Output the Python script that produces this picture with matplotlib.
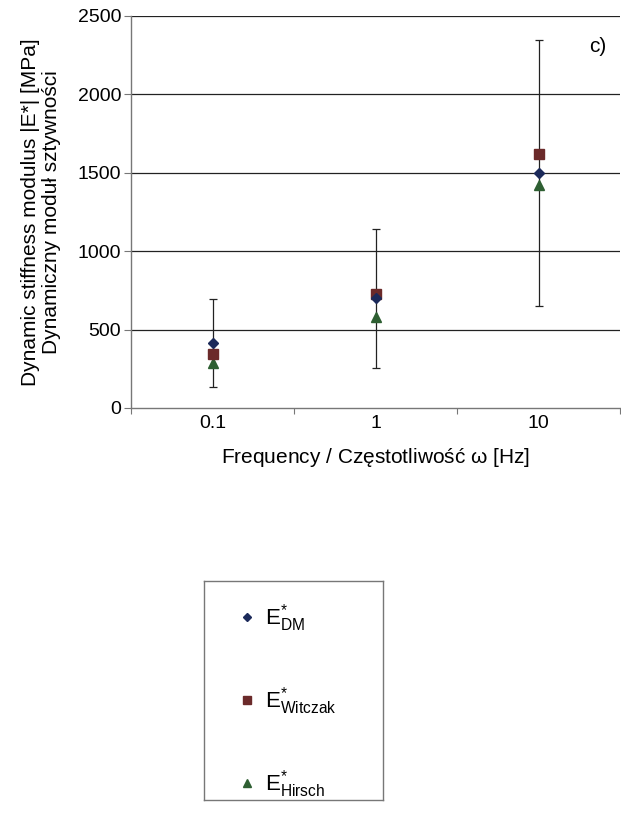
import matplotlib.pyplot as plt
import numpy as np

plt.rcParams['font.family'] = ['Liberation Sans', 'DejaVu Sans']
plt.rcParams['mathtext.fontset'] = 'custom'
plt.rcParams['mathtext.rm'] = 'Liberation Sans'
plt.rcParams['mathtext.it'] = 'Liberation Sans'

# data
freq_labels = ['0.1', '1', '10']
e_dm = [413, 700, 1500]
e_witczak = [345, 726, 1623]
e_hirsch = [285, 583, 1420]
e_dm_err = [281, 442, 850]

fig = plt.figure(figsize=(6.21, 8.21), dpi=100)
ax = fig.add_axes([131 / 621, 1 - 408 / 821, 489 / 621, 392 / 821])

x = np.arange(len(freq_labels)) + 0.5

# grid lines behind the points
for yv in [500, 1000, 1500, 2000, 2500]:
    ax.axhline(yv, color='#222222', lw=0.9, zorder=1)

ax.errorbar(x, e_dm, yerr=e_dm_err, fmt='none', ecolor='#222222',
            elinewidth=0.9, capsize=3, capthick=0.9, zorder=2)
ax.plot(x, e_hirsch, '^', color='#2e5f32', ms=7, ls='none', zorder=3,
        label=r'E$^{*}_{\mathrm{Hirsch}}$')
ax.plot(x, e_witczak, 's', color='#6b2a2a', ms=6.5, ls='none', zorder=4,
        label=r'E$^{*}_{\mathrm{Witczak}}$')
ax.plot(x, e_dm, 'D', color='#1c2a5a', ms=5, ls='none', zorder=5,
        label=r'E$^{*}_{\mathrm{DM}}$')

ax.set_xlim(0, 3)
ax.set_ylim(0, 2500)
ax.set_yticks([0, 500, 1000, 1500, 2000, 2500])
ax.set_xticks([0, 1, 2, 3])
ax.set_xticklabels([])
ax.set_xticks(x, minor=True)
ax.set_xticklabels(freq_labels, minor=True)
ax.tick_params(axis='x', which='minor', length=0, labelsize=14, pad=5)
ax.tick_params(axis='x', which='major', length=4, direction='out', color='#777777')
ax.tick_params(axis='y', length=5, direction='out', color='#777777', labelsize=14, pad=2)

for side in ['top', 'right']:
    ax.spines[side].set_visible(False)
for side in ['left', 'bottom']:
    ax.spines[side].set_color('#777777')
    ax.spines[side].set_linewidth(1)

ax.set_ylabel('Dynamic stiffness modulus |E*| [MPa]\nDynamiczny moduł sztywności',
              fontsize=15, labelpad=12, linespacing=1.15)
ax.set_xlabel('Frequency / Częstotliwość $\\omega$ [Hz]', fontsize=15, labelpad=10)

ax.text(0.972, 0.922, 'c)', transform=ax.transAxes, fontsize=15, ha='right', va='center')

# legend in its own box below the chart
legax = fig.add_axes([204 / 621, 1 - 800 / 821, 179 / 621, 219 / 821])
legax.set_xticks([])
legax.set_yticks([])
for sp in legax.spines.values():
    sp.set_color('#777777')
    sp.set_linewidth(1)

handles, labels = ax.get_legend_handles_labels()
handles = handles[::-1]
labels = labels[::-1]
legax.legend(handles, labels, loc='center left', bbox_to_anchor=(0.09, 0.45),
             frameon=False, fontsize=16, labelspacing=2.3, handlelength=0.6,
             handletextpad=0.5, markerscale=0.8)

fig.savefig('out.png', dpi=100)
